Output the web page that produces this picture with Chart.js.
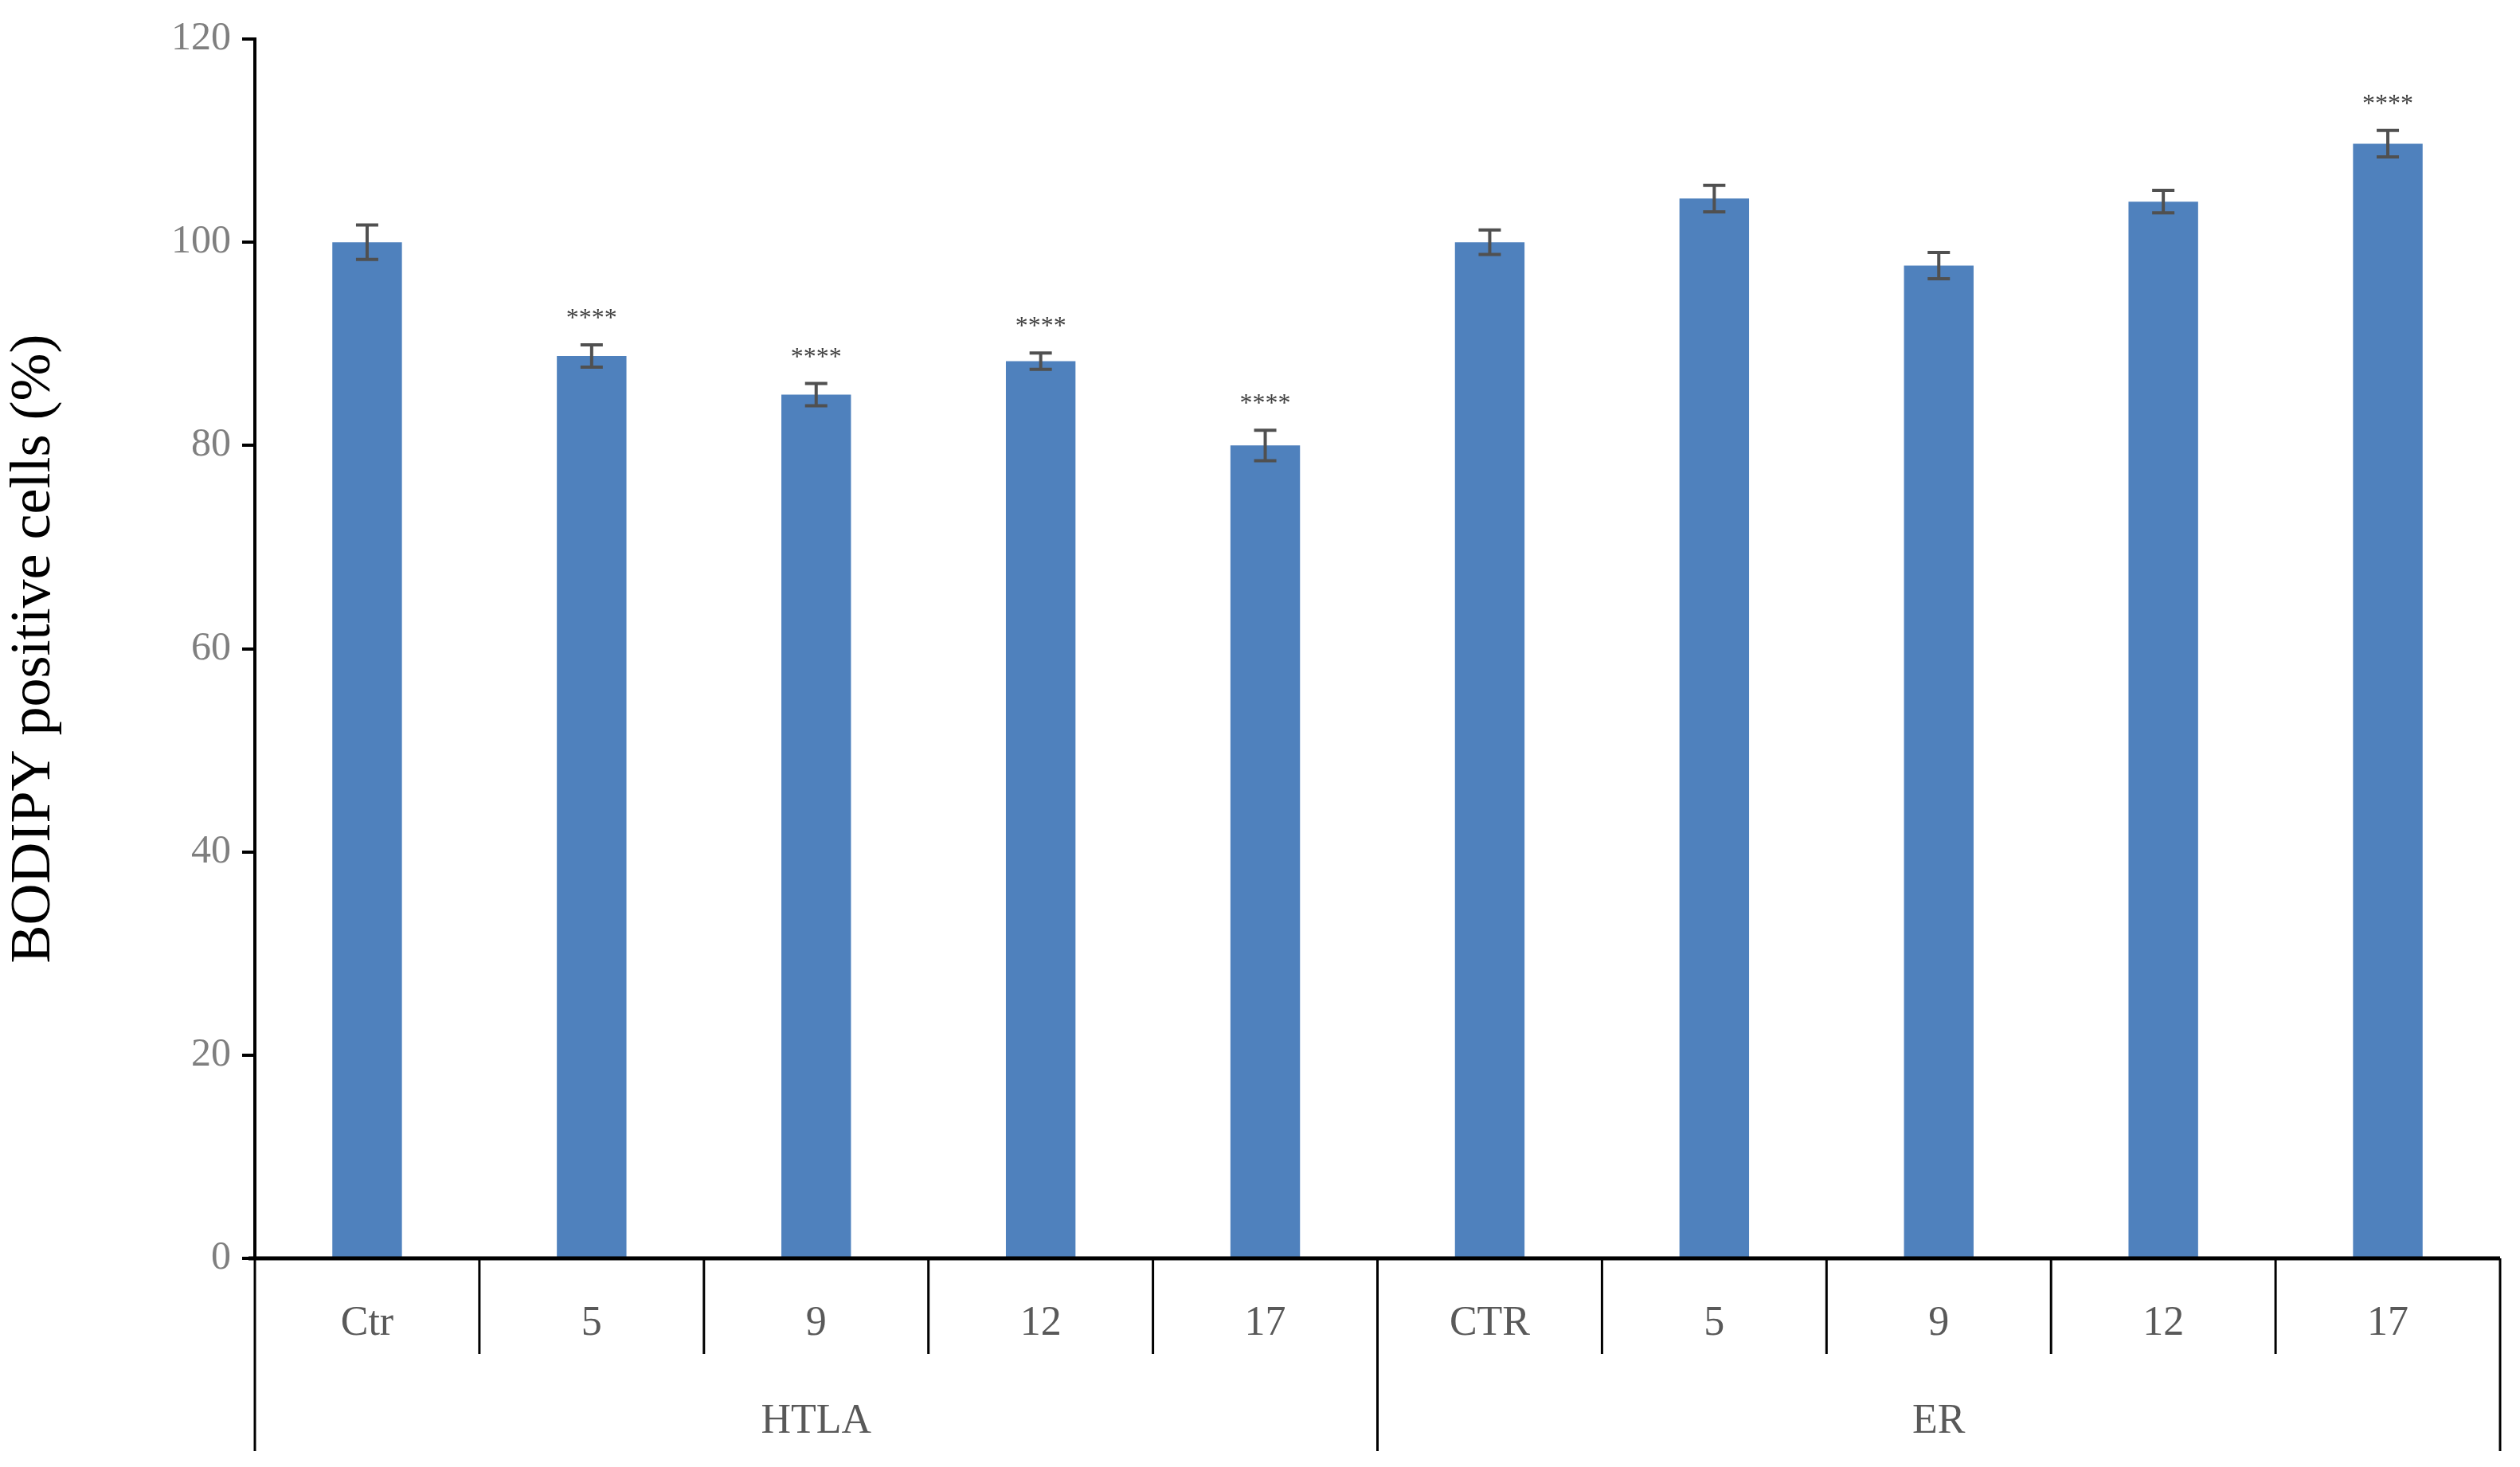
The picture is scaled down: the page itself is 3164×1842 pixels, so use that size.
<!DOCTYPE html>
<html><head><meta charset="utf-8">
<script src="https://cdn.jsdelivr.net/npm/chart.js@4/dist/chart.umd.min.js"></script>
<style>html,body{margin:0;padding:0;background:#fff}#w{width:3164px;height:1842px}</style>
</head><body><div id="w"><canvas id="c" width="3164" height="1842"></canvas></div>
<script>
const categories = ["Ctr","5","9","12","17","CTR","5","9","12","17"];
const groups = ["HTLA","ER"];
const groupSizes = [5,5];
const values = [100,88.8,85.0,88.3,80.0,100,104.3,97.7,104.0,109.7];
const errors = [1.7,1.1,1.1,0.8,1.5,1.2,1.3,1.3,1.1,1.3];
const stars = ["","****","****","****","****","","","","","****"];
const yTicks = [0,20,40,60,80,100,120];

const FONT = "'Liberation Serif','DejaVu Serif',serif";
const overlay = {
  id:'overlay',
  afterDatasetsDraw(chart){
    const ctx=chart.ctx, x=chart.scales.x, y=chart.scales.y, a=chart.chartArea;
    ctx.save();
    // error bars
    ctx.strokeStyle='#505050'; ctx.lineWidth=4;
    values.forEach((v,i)=>{
      const px=x.getPixelForValue(i), t=y.getPixelForValue(v+errors[i]), b=y.getPixelForValue(v-errors[i]);
      ctx.beginPath(); ctx.moveTo(px,t); ctx.lineTo(px,b);
      ctx.moveTo(px-14,t); ctx.lineTo(px+14,t); ctx.moveTo(px-14,b); ctx.lineTo(px+14,b); ctx.stroke();
      if(stars[i]){
        ctx.fillStyle='#404040'; ctx.font='32px '+FONT; ctx.textAlign='center'; ctx.textBaseline='alphabetic';
        ctx.fillText(stars[i],px,t-24);
      }
    });
    // x axis line and separators
    const step=(x.getPixelForValue(1)-x.getPixelForValue(0));
    ctx.strokeStyle='#000'; ctx.lineWidth=5;
    ctx.beginPath(); ctx.moveTo(a.left-8,a.bottom); ctx.lineTo(a.right,a.bottom); ctx.stroke();
    ctx.lineWidth=3;
    ctx.fillStyle='#595959'; ctx.textAlign='center'; ctx.textBaseline='middle';
    ctx.font='52px '+FONT;
    let idx=0;
    const innerBottom=a.bottom+120, outerBottom=a.bottom+242;
    for(let i=0;i<=categories.length;i++){
      const px=x.getPixelForValue(i)-step/2;
      let isGroupEdge=false, acc=0;
      for(const s of [0,...groupSizes]){acc+=s; if(acc===i) isGroupEdge=true;}
      ctx.beginPath(); ctx.moveTo(px,a.bottom); ctx.lineTo(px,isGroupEdge?outerBottom:innerBottom); ctx.stroke();
    }
    categories.forEach((c,i)=>ctx.fillText(c,x.getPixelForValue(i),a.bottom+82));
    let start=0;
    groups.forEach((g,k)=>{
      const c=(x.getPixelForValue(start)+x.getPixelForValue(start+groupSizes[k]-1))/2;
      ctx.fillText(g,c,a.bottom+205);
      start+=groupSizes[k];
    });
    ctx.restore();
  }
};

new Chart(document.getElementById('c'),{
  type:'bar',
  data:{labels:categories,datasets:[{data:values,backgroundColor:'#4f81bd',categoryPercentage:1,barPercentage:0.31}]},
  options:{
    responsive:false,animation:false,devicePixelRatio:1,
    layout:{padding:{top:49,right:25,left:0,bottom:0}},
    plugins:{legend:{display:false},tooltip:{enabled:false}},
    scales:{
      x:{grid:{display:false},border:{display:false},ticks:{display:false},
         afterFit(s){s.height=262;}},
      y:{min:0,max:120,afterBuildTicks(s){s.ticks=yTicks.map(v=>({value:v}));},
         afterFit(s){s.width=320;},
         border:{display:true,color:'#000',width:4},
         grid:{drawOnChartArea:false,drawTicks:true,tickLength:16,color:'#000',lineWidth:4},
         ticks:{color:'#7f7f7f',font:{family:FONT,size:50},padding:14},
         title:{display:true,text:'BODIPY positive cells (%)',color:'#000',font:{family:FONT,size:72},padding:{top:0,bottom:40}}}
    }
  },
  plugins:[overlay]
});
</script></body></html>
